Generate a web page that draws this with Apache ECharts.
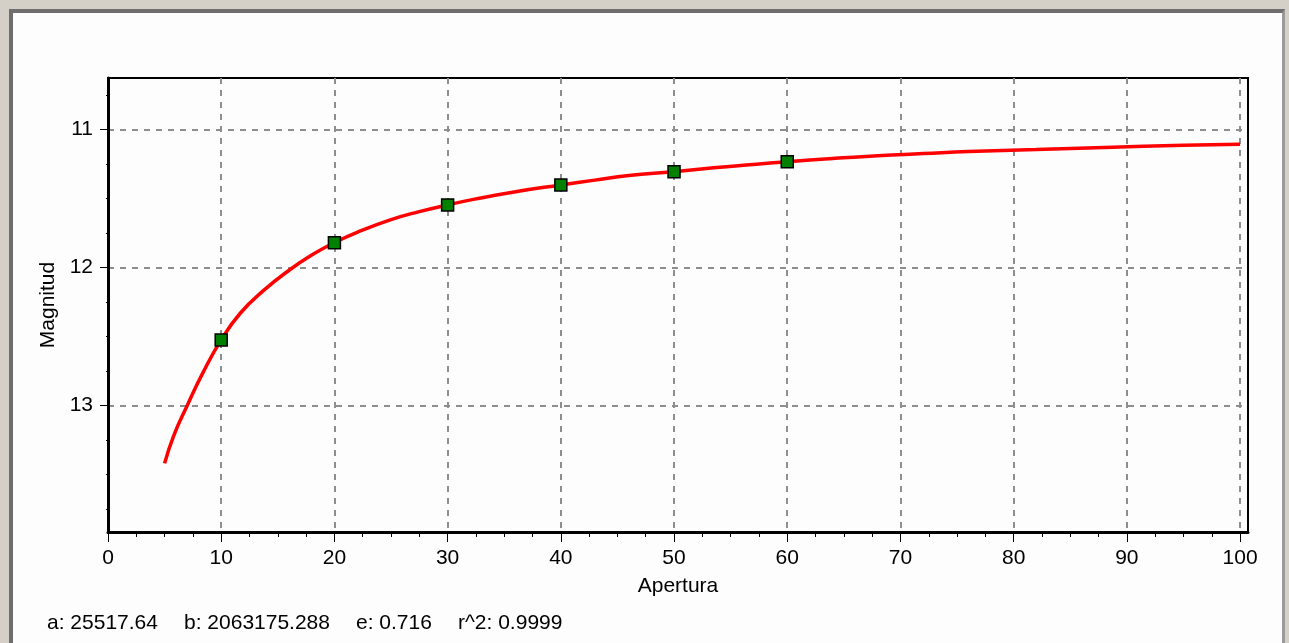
<!DOCTYPE html>
<html>
<head>
<meta charset="utf-8">
<script src="https://cdn.jsdelivr.net/npm/echarts@6/dist/echarts.min.js"></script>
<style>
  html, body { margin: 0; padding: 0; width: 1289px; height: 643px; overflow: hidden; background: #d4d0c8; }
  #frame { position: absolute; left: 9px; top: 9px; width: 1276px; height: 660px;
           background: #fdfdfd; border-left: 4px solid #6e6e6e; border-top: 4px solid #6e6e6e;
           border-right: 3px solid #9a9a9a; box-sizing: border-box; }
  #main { position: absolute; left: 0; top: 0; width: 1289px; height: 643px; }
</style>
</head>
<body>
<div id="frame"></div>
<div id="main"></div>
<script>
// Fitted curve
const curveX = [5, 5.8, 7, 8.4, 10, 11.7, 13.7, 16, 18, 20, 22, 25, 27.5, 30, 32.5, 36, 40, 43, 46, 50, 53.5, 57, 60, 64, 68, 72, 76, 82, 88, 95, 100];
const curveY = [13.42, 13.22, 13.00, 12.76, 12.525, 12.33, 12.17, 12.02, 11.91, 11.82, 11.745, 11.653, 11.595, 11.547, 11.503, 11.451, 11.402, 11.367, 11.334, 11.306, 11.278, 11.254, 11.234, 11.21, 11.19, 11.175, 11.16, 11.145, 11.13, 11.115, 11.107];
// Measured points
const pointX = [10, 20, 30, 40, 50, 60];
const pointY = [12.525, 11.82, 11.547, 11.402, 11.306, 11.234];
// Axis ticks
const xTicks = [0, 10, 20, 30, 40, 50, 60, 70, 80, 90, 100];
const xMinorTicks = [2.5, 5, 7.5, 12.5, 15, 17.5, 22.5, 25, 27.5, 32.5, 35, 37.5, 42.5, 45, 47.5, 52.5, 55, 57.5, 62.5, 65, 67.5, 72.5, 75, 77.5, 82.5, 85, 87.5, 92.5, 95, 97.5];
const yTicks = [11, 12, 13];
const yMinorTicks = [10.75, 11.25, 11.5, 11.75, 12.25, 12.5, 12.75, 13.25, 13.5, 13.75];
const fitText = ['a: 25517.64', 'b: 2063175.288', 'e: 0.716', 'r^2: 0.9999'];

const chart = echarts.init(document.getElementById('main'));
const font = '"Liberation Sans", Arial, sans-serif';
const textX = [47, 184, 356, 458];
const XMIN = 0, XMAX = 100.7, YMIN = 10.627, YMAX = 13.917;
const gridStyle = { color: '#8e8e8e', type: [6, 6], width: 2 };

chart.setOption({
  backgroundColor: 'transparent',
  animation: false,
  grid: { left: 108, right: 41, top: 78, bottom: 111, show: true, borderColor: '#000', borderWidth: 2, backgroundColor: '#fdfdfd' },
  xAxis: [{
    type: 'value', min: XMIN, max: XMAX,
    name: 'Apertura', nameLocation: 'middle', nameGap: 44,
    nameTextStyle: { color: '#000', fontSize: 21, fontFamily: font },
    axisLine: { lineStyle: { color: '#000', width: 3 } },
    axisTick: { show: true, length: 10, customValues: xTicks, lineStyle: { color: '#000', width: 1 } },
    axisLabel: { color: '#000', fontSize: 21, fontFamily: font, margin: 16, customValues: xTicks },
    splitLine: { show: true, lineStyle: gridStyle }
  }, {
    type: 'value', min: XMIN, max: XMAX, position: 'bottom',
    axisLine: { show: false },
    axisTick: { show: true, length: 5, customValues: xMinorTicks, lineStyle: { color: '#000', width: 1 } },
    axisLabel: { show: false },
    splitLine: { show: false }
  }],
  yAxis: [{
    type: 'value', inverse: true, min: YMIN, max: YMAX,
    name: 'Magnitud', nameLocation: 'middle', nameGap: 39, nameRotate: 90,
    nameTextStyle: { color: '#000', fontSize: 21, fontFamily: font },
    axisLine: { lineStyle: { color: '#000', width: 3 } },
    axisTick: { show: true, length: 8, customValues: yTicks, lineStyle: { color: '#000', width: 1 } },
    axisLabel: { color: '#000', fontSize: 21, fontFamily: font, margin: 15, customValues: yTicks },
    splitLine: { show: true, lineStyle: gridStyle }
  }, {
    type: 'value', inverse: true, min: YMIN, max: YMAX, position: 'left',
    axisLine: { show: false },
    axisTick: { show: true, length: 2, customValues: yMinorTicks, lineStyle: { color: '#000', width: 1 } },
    axisLabel: { show: false },
    splitLine: { show: false }
  }],
  graphic: fitText.map((t, i) => ({
    type: 'text', left: textX[i], top: 613,
    style: { text: t, fill: '#000', font: '21px ' + font }
  })),
  series: [
    {
      type: 'line', data: curveX.map((x, i) => [x, curveY[i]]),
      smooth: 0.5, showSymbol: false, symbol: 'none',
      lineStyle: { color: '#ff0000', width: 3.5 }, z: 2
    },
    {
      type: 'scatter', data: pointX.map((x, i) => [x, pointY[i]]),
      symbol: 'rect', symbolSize: 12,
      itemStyle: { color: '#008000', borderColor: '#000', borderWidth: 1.5, opacity: 1 }, z: 3
    }
  ]
});
</script>
</body>
</html>
